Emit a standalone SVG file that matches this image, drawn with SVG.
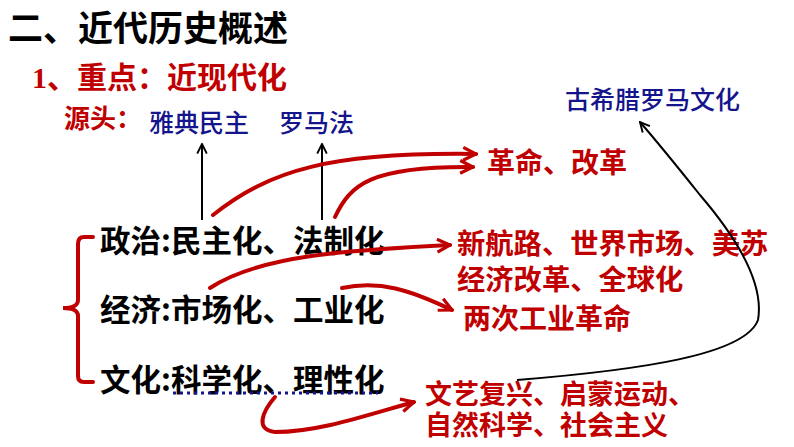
<svg xmlns="http://www.w3.org/2000/svg" width="794" height="447" viewBox="0 0 794 447">
<defs>
<style>
.cjk{font-family:"Noto Sans CJK SC","Noto Sans",sans-serif}
.t{font-weight:bold;fill:#000}
.r{font-weight:bold;fill:#c00000}
.b{fill:#14148c;font-weight:500}
.rl{fill:none;stroke:#c00000;stroke-width:4;stroke-linecap:round}
.bl{fill:none;stroke:#000;stroke-width:2}
</style>
<marker id="ra" viewBox="0 0 10 10" refX="9" refY="5" markerWidth="4" markerHeight="4" orient="auto" markerUnits="strokeWidth">
<path d="M1,1 L9,5 L1,9" fill="none" stroke="#c00000" stroke-width="2"/>
</marker>
<marker id="ba" viewBox="0 0 10 10" refX="9" refY="5" markerWidth="6" markerHeight="6" orient="auto" markerUnits="strokeWidth">
<path d="M1,1 L9,5 L1,9" fill="none" stroke="#000" stroke-width="1.6"/>
</marker>
</defs>
<rect width="794" height="447" fill="#fff"/>
<g id="title"><text class="cjk t" x="8" y="41" font-size="35">二、近代历史概述</text></g>
<g id="subtitle"><text class="cjk r" x="32" y="88" font-size="30"><tspan font-family="Liberation Serif">1</tspan>、重点：近现代化</text></g>
<g id="source">
<text class="cjk r" x="64" y="128" font-size="26">源头：</text>
<text class="cjk b" x="149" y="132" font-size="25">雅典民主</text>
<text class="cjk b" x="279" y="132" font-size="25">罗马法</text>
</g>
<g id="greco"><text class="cjk b" x="565" y="109" font-size="25">古希腊罗马文化</text></g>
<g id="revolution"><text class="cjk r" x="487" y="173" font-size="28">革命、改革</text></g>
<g id="politics"><text class="cjk t" x="100" y="252" font-size="30.5">政治:民主化、法制化</text></g>
<g id="economy"><text class="cjk t" x="100" y="321" font-size="30.5">经济:市场化、工业化</text></g>
<g id="culture"><text class="cjk t" x="100" y="391" font-size="30.5">文化:科学化、理性化</text></g>
<g id="global">
<text class="cjk r" x="457" y="254" font-size="28.3">新航路、世界市场、美苏</text>
<text class="cjk r" x="457" y="290" font-size="28.3">经济改革、全球化</text>
</g>
<g id="industrial"><text class="cjk r" x="463" y="329" font-size="28">两次工业革命</text></g>
<g id="thought">
<text class="cjk r" x="425" y="404" font-size="27">文艺复兴、启蒙运动、</text>
<text class="cjk r" x="425" y="435" font-size="27">自然科学、社会主义</text>
</g>
<g id="connectors">
<path class="bl" d="M202,220 V144" marker-end="url(#ba)"/>
<path class="bl" d="M322,220 V144" marker-end="url(#ba)"/>
<path class="rl" d="M213,215 C270,170 330,152 476,154" marker-end="url(#ra)"/>
<path class="rl" d="M335,217 C350,185 370,166 473,167" marker-end="url(#ra)"/>
<path class="rl" d="M210,288 C260,255 350,250 450,245" marker-end="url(#ra)"/>
<path class="rl" d="M342,288 C380,280 410,290 452,310" marker-end="url(#ra)"/>
<path class="rl" d="M275,397 C262,412 255,430 275,432 C320,432 370,414 414,402" marker-end="url(#ra)"/>
<path class="rl" d="M93,237 H84 Q78,237 78,244 V300 Q78,308 63,308 Q78,308 78,316 V376 Q78,382 84,382 H93"/>
<path d="M173,393 H378" fill="none" stroke="#14148c" stroke-width="3" stroke-dasharray="3,4"/>
<path class="bl" d="M517,380 C640,370 745,355 758,320 C765,280 730,230 700,195 C680,170 660,145 640,122" marker-end="url(#ba)"/>
</g>
</svg>
